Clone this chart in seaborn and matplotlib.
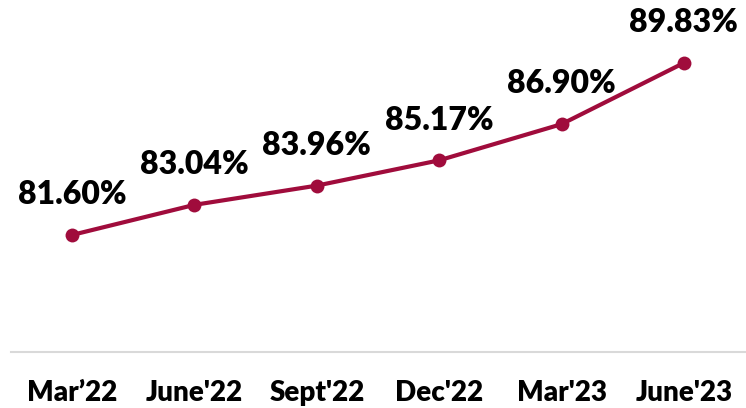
import matplotlib
matplotlib.use('Agg')
import matplotlib.pyplot as plt
import pandas as pd
import seaborn as sns

periods = ['Mar\u201922', "June'22", "Sept'22", "Dec'22", "Mar'23", "June'23"]
values = [81.60, 83.04, 83.96, 85.17, 86.90, 89.83]

df = pd.DataFrame({'period': periods, 'value': values})

sns.set_theme(style='white')
plt.rcParams['font.family'] = ['Lato', 'DejaVu Sans']

fig = plt.figure(figsize=(7.46, 4.08), dpi=100)
ax = fig.add_axes([0.0147, 0.1373, 0.984, 0.8196])

line_color = '#A00C3C'
sns.lineplot(data=df, x='period', y='value', sort=False, ax=ax,
             color=line_color, linewidth=3, marker='o', markersize=10,
             markeredgewidth=0)

for i, v in enumerate(values):
    ax.annotate(f'{v:.2f}%', (i, v), xytext=(0, 29), textcoords='offset points',
                ha='center', va='center', fontsize=23, fontweight='heavy',
                color='black')

ax.set_xlim(-0.5, 5.5)
ax.set_ylim(76, 92)
ax.set_yticks([])
ax.set_xlabel('')
ax.set_ylabel('')
ax.set_xticks(range(len(periods)))
ax.set_xticklabels(periods, fontsize=20, fontweight='heavy', color='black')
ax.tick_params(axis='x', length=0, pad=20)

for s in ['top', 'right', 'left']:
    ax.spines[s].set_visible(False)
ax.spines['bottom'].set_color('#d9d9d9')
ax.spines['bottom'].set_linewidth(1.5)

fig.savefig('out.png', dpi=100)
